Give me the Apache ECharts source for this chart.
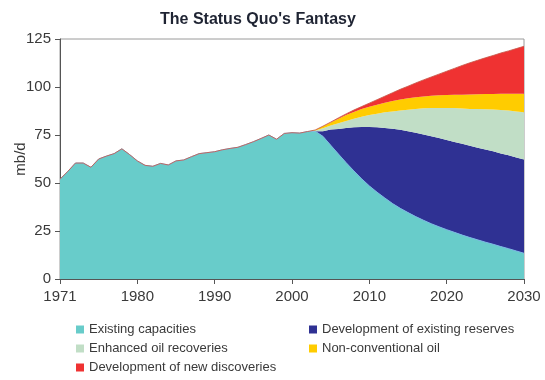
<!DOCTYPE html>
<html>
<head>
<meta charset="utf-8">
<script src="https://cdn.jsdelivr.net/npm/echarts@6/dist/echarts.min.js"></script>
<style>html,body{margin:0;padding:0;background:#fff;}#c{width:545px;height:380px;}</style>
</head>
<body>
<div id="c"></div>
<script>
// Axis positions (the plot's left edge is labelled 1971)
const years = [];
for (let y = 1970; y <= 2030; y++) years.push(String(y));
const tickLabels = ['1971', '1980', '1990', '2000', '2010', '2020', '2030'];
const seriesNames = ['Existing capacities', 'Development of existing reserves', 'Enhanced oil recoveries', 'Non-conventional oil', 'Development of new discoveries'];

// mb/d, 1970..2030 positions
const existingCapacities = [52, 56, 60.4, 60.4, 58.2, 62.5, 64, 65.3, 67.8, 64.8, 61.5, 59.2, 58.7, 60.2, 59.4, 61.5, 62, 63.7, 65.3, 65.8,
  66.3, 67.3, 68, 68.6, 70, 71.5, 73.2, 75, 72.8, 75.8, 76.2, 76, 76.8, 77.0,
  74.3, 69.7, 65.1, 60.6, 56.3, 52.2, 48.5, 45.2, 42.2, 39.3, 36.8, 34.6, 32.5, 30.6, 28.8, 27.2, 25.7, 24.3, 22.9, 21.6, 20.4, 19.2, 18.1, 16.9, 15.8, 14.6, 13.4];
const existingReserves = [0,0,0,0,0,0,0,0,0,0, 0,0,0,0,0,0,0,0,0,0, 0,0,0,0,0,0,0,0,0,0, 0,0,0,0,
  2.7, 8.1, 13.0, 18.0, 22.7, 27.0, 30.7, 33.8, 36.5, 38.9, 40.9, 42.4, 43.7, 44.7, 45.6, 46.2, 46.7, 47.1, 47.5, 47.8, 48.0, 48.2, 48.4, 48.5, 48.6, 48.7, 48.9];
const enhancedRecovery = [0,0,0,0,0,0,0,0,0,0, 0,0,0,0,0,0,0,0,0,0, 0,0,0,0,0,0,0,0,0,0, 0,0,0,0.3,
  1.5, 2.2, 3.0, 3.7, 4.5, 5.3, 6.2, 7.1, 8.1, 9.1, 10.1, 11.2, 12.4, 13.6, 14.7, 15.7, 16.7, 17.6, 18.4, 19.2, 20.1, 21.0, 21.8, 22.6, 23.3, 24.0, 24.6];
const nonConventional = [0,0,0,0,0,0,0,0,0,0, 0,0,0,0,0,0,0,0,0,0, 0,0,0,0,0,0,0,0,0,0, 0,0,0,0.3,
  1.0, 1.5, 2.4, 3.1, 3.5, 4.0, 4.3, 4.7, 5.0, 5.4, 5.7, 5.9, 6.0, 6.2, 6.4, 6.6, 6.7, 6.9, 7.2, 7.5, 7.7, 7.9, 8.1, 8.5, 8.8, 9.2, 9.6];
const newDiscoveries = [0,0,0,0,0,0,0,0,0,0, 0,0,0,0,0,0,0,0,0,0, 0,0,0,0,0,0,0,0,0,0, 0,0,0,0,
  0.1, 0.2, 0.4, 0.6, 1.0, 1.3, 1.9, 2.6, 3.4, 4.3, 5.3, 6.3, 7.5, 8.6, 9.7, 11.0, 12.4, 13.8, 15.2, 16.5, 17.7, 18.9, 20.0, 21.2, 22.3, 23.5, 24.7];

const values = [existingCapacities, existingReserves, enhancedRecovery, nonConventional, newDiscoveries];
const colors = ['#68CCCA', '#2F3193', '#C1DEC6', '#FFCC00', '#EF3232'];
const lines = [
  { width: 1, color: '#7ab9e4' },
  { width: 0, opacity: 0 },
  { width: 0, opacity: 0 },
  { width: 0, opacity: 0 },
  { width: 1, color: '#c8584a', opacity: 0.85 }
];

const series = seriesNames.map((name, i) => ({
  name: name,
  type: 'line',
  stack: 'total',
  symbol: 'none',
  smooth: false,
  data: values[i],
  itemStyle: { color: colors[i] },
  lineStyle: lines[i],
  areaStyle: { color: colors[i], opacity: 1 }
}));

const legendText = { fontFamily: 'Liberation Sans', fontSize: 13, color: '#3a3a3a' };
const legendPos = [[76, 323], [309, 323], [76, 342], [309, 342], [76, 361]];
const legends = seriesNames.map((name, i) => ({
  left: legendPos[i][0], top: legendPos[i][1], icon: 'rect', itemWidth: 8, itemHeight: 8, itemGap: 5,
  data: [name], textStyle: legendText, padding: 0
}));

const chart = echarts.init(document.getElementById('c'), null, { renderer: 'canvas' });
chart.setOption({
  animation: false,
  backgroundColor: '#fff',
  title: {
    text: "The Status Quo's Fantasy",
    left: 155, top: 7,
    textStyle: { fontFamily: 'Liberation Sans', fontSize: 16, fontWeight: 'bold', color: '#1f2433' }
  },
  legend: legends,
  grid: { left: 60, top: 39, width: 464, height: 240, show: true, borderColor: '#9a9a9a', borderWidth: 1,
    backgroundColor: 'transparent', containLabel: false, outerBoundsMode: 'none' },
  xAxis: {
    type: 'category', data: years, boundaryGap: false,
    axisLine: { show: true, lineStyle: { color: '#555', width: 1 } },
    axisTick: { show: true, inside: false, length: 5, interval: 9, lineStyle: { color: '#555' } },
    splitLine: { show: false },
    axisLabel: {
      margin: 10, interval: 9, fontFamily: 'Liberation Sans', fontSize: 15, color: '#3a3a3a',
      formatter: (v, idx) => tickLabels[Math.round(idx / 10)]
    }
  },
  yAxis: {
    type: 'value', min: 0, max: 125, interval: 25,
    name: 'mb/d', nameLocation: 'middle', nameGap: 32, nameRotate: 90, nameMoveOverlap: false,
    nameTextStyle: { fontFamily: 'Liberation Sans', fontSize: 15, color: '#3a3a3a' },
    axisLine: { show: true, lineStyle: { color: '#555', width: 1 } },
    axisTick: { show: true, inside: false, length: 5, lineStyle: { color: '#555' } },
    splitLine: { show: false },
    axisLabel: { margin: 9, fontFamily: 'Liberation Sans', fontSize: 15, color: '#3a3a3a' }
  },
  series: series
});
</script>
</body>
</html>
